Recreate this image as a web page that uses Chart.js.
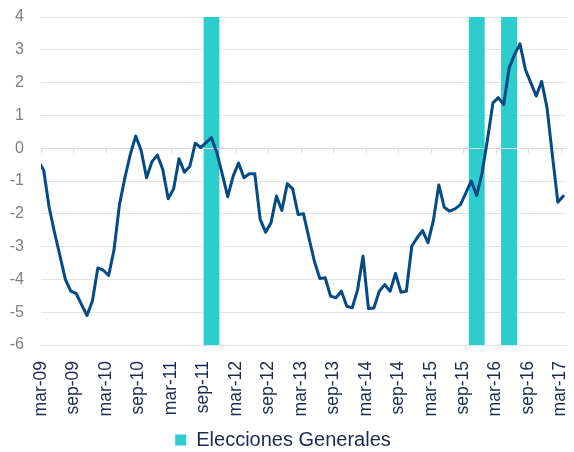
<!DOCTYPE html>
<html><head><meta charset="utf-8">
<script src="https://cdn.jsdelivr.net/npm/chart.js@4/dist/chart.umd.min.js"></script>
<style>html,body{margin:0;padding:0;background:#fff;} #wrap{width:574px;height:452px;}</style>
</head><body><div id="wrap"><canvas id="c" width="574" height="452"></canvas></div>
<script>
// Monthly series, from feb-09 to mar-17 (first value sits one month before the mar-09 tick)
const seriesFirstMonthOffset = -1; // months relative to mar-09
const seriesValues = [
  -0.39,                                                        // feb-09
  -0.67, -1.80, -2.57, -3.28, -4.00, -4.36, -4.43, -4.77, -5.10, -4.66, // mar-09 .. dic-09
  -3.65, -3.72, -3.88, -3.09, -1.72, -0.90, -0.19, 0.37, -0.06, -0.90, -0.41, -0.21, // 2010
  -0.65, -1.54, -1.24, -0.32, -0.73, -0.55, 0.15, 0.02, 0.17, 0.32, -0.14, -0.80,   // 2011
  -1.48, -0.85, -0.45, -0.90, -0.78, -0.78, -2.17, -2.56, -2.27, -1.46, -1.90, -1.08, // 2012
  -1.24, -2.02, -2.00, -2.73, -3.44, -3.97, -3.95, -4.51, -4.56, -4.36, -4.82, -4.87, // 2013
  -4.31, -3.29, -4.89, -4.87, -4.36, -4.16, -4.36, -3.82, -4.39, -4.36, -2.99, -2.73, // 2014
  -2.51, -2.88, -2.20, -1.12, -1.80, -1.92, -1.85, -1.72, -1.36, -1.00, -1.44, -0.75, // 2015
  0.27, 1.38, 1.54, 1.33, 2.45, 2.86, 3.18, 2.40, 1.99, 1.59, 2.04, 1.23,             // 2016
  -0.24, -1.65, -1.46                                            // ene-17 .. mar-17
];
const xTickLabels = ['mar-09','sep-09','mar-10','sep-10','mar-11','sep-11','mar-12','sep-12',
  'mar-13','sep-13','mar-14','sep-14','mar-15','sep-15','mar-16','sep-16','mar-17'];
const tickStepMonths = 6;
const axisEndMonth = 97; // apr-17
const yMin = -6, yMax = 4;

const electionLabel = 'Elecciones Generales';
const electionStartMonths = [30, 79, 85];   // sep-11, oct-15, abr-16 (months after mar-09)
const electionDurationMonths = [3, 3, 3];   // ends nov-11, dic-15, jun-16

const LINE_COLOR = '#044a86';
const BAR_COLOR = '#2ecdcd';
const NAVY = '#1c2a4d';
const FONT = '"Liberation Sans", Arial, sans-serif';

const lineData = seriesValues.map((v, k) => ({x: seriesFirstMonthOffset + k + 0.5, y: v}));

const electionSets = electionStartMonths.map((s, j) => ({
  type: 'line',
  label: electionLabel,
  data: [{x: s, y: yMin}, {x: s, y: yMax}, {x: s + electionDurationMonths[j], y: yMax}, {x: s + electionDurationMonths[j], y: yMin}],
  fill: 'start',
  backgroundColor: BAR_COLOR,
  borderColor: BAR_COLOR,
  borderWidth: 0,
  pointRadius: 0,
  tension: 0
}));

const zeroLine = {
  id: 'zeroLine',
  afterDatasetDraw(chart, args) {
    if (args.index !== 1) return;
    const {ctx, chartArea} = chart;
    const ys = chart.scales.y, xs = chart.scales.x;
    const y0 = Math.round(ys.getPixelForValue(0)) + 0.5;
    ctx.save();
    ctx.strokeStyle = '#d9d9d9';
    ctx.lineWidth = 1;
    ctx.beginPath();
    ctx.moveTo(chartArea.left, y0);
    ctx.lineTo(chartArea.right, y0);
    xs.ticks.forEach(t => {
      const px = Math.round(xs.getPixelForValue(t.value)) + 0.5;
      ctx.moveTo(px, y0);
      ctx.lineTo(px, y0 + 5);
    });
    ctx.stroke();
    ctx.restore();
  }
};

new Chart(document.getElementById('c'), {
  type: 'line',
  data: {
    datasets: [
      {
        label: 'Serie',
        data: lineData,
        borderColor: LINE_COLOR,
        backgroundColor: LINE_COLOR,
        borderWidth: 3,
        pointRadius: 0,
        tension: 0,
        fill: false,
        borderJoinStyle: 'round',
        borderCapStyle: 'round'
      },
      ...electionSets
    ]
  },
  options: {
    responsive: false,
    animation: false,
    devicePixelRatio: 1,
    layout: {padding: {top: 17, right: 8, left: 0, bottom: -8}},
    plugins: {
      tooltip: {enabled: false},
      legend: {
        position: 'bottom',
        labels: {
          filter: (item) => item.datasetIndex === 1,
          boxWidth: 11,
          boxHeight: 11,
          padding: 8,
          color: NAVY,
          font: {family: FONT, size: 20}
        }
      }
    },
    scales: {
      x: {
        type: 'linear',
        min: 0,
        max: axisEndMonth,
        grid: {display: false},
        border: {display: false},
        afterBuildTicks: (scale) => {
          scale.ticks = xTickLabels.map((_, k) => ({value: k * tickStepMonths}));
        },
        afterFit: (scale) => {
          scale.height = 77;
          scale.paddingLeft = 0;
          scale.paddingRight = 0;
        },
        ticks: {
          autoSkip: false,
          minRotation: 90,
          maxRotation: 90,
          padding: 8,
          color: NAVY,
          font: {family: FONT, size: 17.5},
          callback: (value, index) => xTickLabels[index]
        }
      },
      y: {
        min: yMin,
        max: yMax,
        grid: {color: '#e4e4e4', drawTicks: false},
        border: {display: false},
        afterFit: (scale) => {
          scale.width = 41;
          scale.paddingTop = 0;
          scale.paddingBottom = 0;
        },
        ticks: {
          stepSize: 1,
          padding: 17,
          color: '#7f7f7f',
          font: {family: FONT, size: 16}
        }
      }
    }
  },
  plugins: [zeroLine]
});
</script>
</body></html>
